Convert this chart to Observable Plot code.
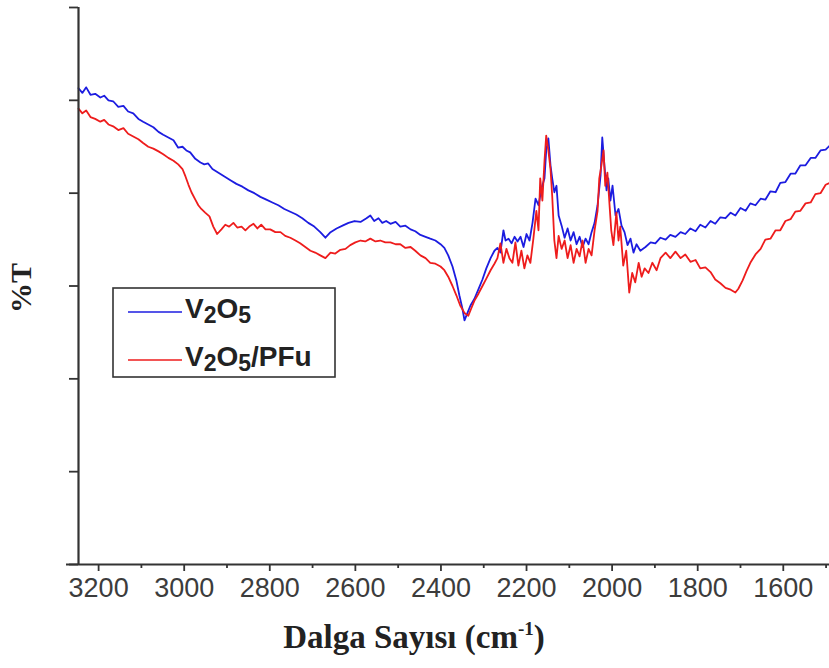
<!DOCTYPE html>
<html>
<head>
<meta charset="utf-8">
<script src="https://cdn.jsdelivr.net/npm/d3@7"></script>
<script src="https://cdn.jsdelivr.net/npm/@observablehq/plot@0.6"></script>
<style>
  html, body { margin: 0; padding: 0; background: #fff; }
  #chart { width: 829px; height: 668px; }
</style>
</head>
<body>
<div id="chart"></div>
<script>
// FTIR transmittance spectra, wavenumber axis in cm-1 (high to low)
const wnBlue = [3247,3238,3229,3219,3208,3196,3187,3177,3166,3154,3142,3131,3119,3107,3096,3084,3072,3060,3049,3037,
  3025,3014,3004,2995,2986,2974,2962,2953,2944,2934,2920,2906,2892,2878,2864,2850,2836,2822,2808,2794,
  2780,2766,2752,2738,2724,2710,2696,2682,2670,2658,2644,2630,2616,2602,2588,2574,2565,2556,2546,2537,
  2528,2518,2506,2495,2483,2471,2460,2448,2436,2425,2413,2401,2392,2383,2373,2364,2357,2350,2345,2338,
  2331,2322,2312,2303,2294,2284,2275,2268,2261,2254,2249,2242,2235,2228,2221,2214,2207,2200,2193,2186,
  2179,2172,2165,2158,2154,2149,2144,2140,2135,2130,2125,2118,2111,2104,2097,2090,2083,2076,2069,2062,
  2055,2048,2041,2034,2027,2023,2018,2013,2009,2004,1999,1992,1985,1978,1971,1964,1957,1950,1943,1934,
  1922,1910,1899,1887,1875,1864,1852,1840,1829,1817,1805,1794,1782,1770,1759,1747,1735,1723,1712,1700,
  1688,1677,1665,1653,1642,1630,1618,1607,1595,1583,1572,1560,1548,1536,1525,1513,1501,1492];
const tBlue = [51.3,50.8,51.4,50.6,50.7,50.3,50.5,50.0,49.9,49.3,49.4,48.8,48.6,48.0,47.7,47.4,47.1,46.6,46.3,46.0,
  45.7,44.9,45.0,44.6,44.4,43.7,43.3,43.1,43.2,42.6,42.2,41.8,41.4,41.0,40.7,40.3,40.0,39.6,39.3,39.0,
  38.7,38.3,38.0,37.7,37.3,36.8,36.4,35.8,35.2,35.8,36.2,36.5,36.8,37.0,36.9,37.3,37.6,37.0,37.3,36.8,
  37.0,36.7,36.9,36.4,36.5,36.1,35.9,35.5,35.3,35.1,34.9,34.5,34.1,33.3,32.1,30.6,29.0,27.6,26.3,27.1,
  27.9,28.6,29.7,30.7,31.9,33.0,33.8,34.1,33.6,36.0,34.9,35.1,34.6,35.3,34.8,35.3,34.2,35.6,34.9,36.8,
  39.4,38.7,40.5,41.6,44.6,45.9,43.0,41.6,40.1,40.8,37.6,36.5,35.2,36.2,34.9,35.8,34.5,35.3,34.2,35.1,
  34.5,35.8,36.8,38.7,41.9,46.0,43.0,40.3,41.6,39.2,40.8,37.6,38.3,36.5,35.8,34.4,35.1,33.6,34.5,33.8,
  34.2,34.7,34.6,35.2,35.0,35.5,35.3,35.8,35.6,36.2,35.9,36.6,36.3,37.0,36.7,37.4,37.3,37.9,37.6,38.4,
  38.1,38.9,38.7,39.4,39.3,40.2,40.1,41.1,41.2,42.1,42.1,43.0,43.0,43.8,43.8,44.6,44.7,45.1];

const wnRed = [3247,3238,3229,3219,3208,3196,3187,3177,3166,3154,3142,3131,3119,3107,3096,3084,3072,3060,3049,3037,
  3025,3014,3004,2997,2990,2983,2974,2967,2960,2951,2941,2932,2923,2913,2904,2895,2885,2876,2866,2857,
  2848,2838,2829,2820,2810,2799,2787,2775,2764,2752,2740,2729,2717,2705,2694,2682,2670,2658,2647,2635,
  2623,2612,2600,2588,2577,2565,2553,2542,2530,2518,2506,2495,2483,2471,2460,2448,2436,2425,2413,2401,
  2392,2383,2373,2364,2355,2345,2336,2329,2322,2312,2303,2294,2284,2275,2268,2261,2254,2247,2240,2233,
  2226,2219,2212,2205,2198,2191,2184,2177,2172,2168,2163,2158,2154,2149,2144,2140,2135,2130,2125,2118,
  2111,2104,2097,2090,2083,2076,2069,2062,2055,2048,2041,2034,2030,2025,2020,2016,2011,2006,2002,1997,
  1990,1985,1981,1974,1967,1960,1953,1946,1938,1931,1924,1915,1906,1896,1887,1875,1864,1852,1840,1829,
  1817,1805,1794,1782,1770,1759,1747,1735,1723,1712,1705,1695,1686,1677,1665,1653,1642,1630,1618,1607,
  1595,1583,1572,1560,1548,1536,1525,1513,1501,1492];
const tRed = [49.1,48.6,48.9,48.2,48.0,47.7,47.9,47.4,47.2,46.8,47.0,46.4,46.1,45.8,45.4,45.0,44.8,44.5,44.2,43.8,
  43.5,43.1,42.6,41.8,40.9,40.1,39.3,38.7,38.3,37.9,37.5,36.4,35.6,36.1,36.6,36.4,36.8,36.3,36.4,36.0,
  36.4,36.7,36.2,36.6,36.1,36.1,35.8,35.8,35.4,35.2,34.9,34.6,34.2,33.8,33.6,33.3,33.0,33.6,33.5,33.9,
  34.0,34.4,34.7,34.9,34.8,35.1,34.8,34.9,34.7,34.7,34.5,34.5,34.1,34.2,33.8,33.3,33.0,32.5,32.4,32.1,
  31.7,31.0,30.0,29.0,27.9,27.1,26.8,27.6,28.4,29.2,30.0,30.8,31.7,32.4,33.0,34.6,32.5,34.0,33.0,32.5,
  34.7,32.2,33.8,31.9,33.3,32.5,35.1,38.1,36.0,41.6,39.2,43.5,46.2,44.6,42.6,39.7,34.9,33.0,35.4,34.0,
  34.9,33.0,34.4,32.5,34.0,33.2,34.9,32.5,34.0,33.3,36.0,38.1,41.6,43.0,44.6,40.8,42.2,38.7,36.0,34.4,
  37.9,34.9,36.4,32.2,33.8,29.3,31.4,30.4,32.5,31.0,31.9,31.4,32.5,31.7,33.0,33.6,33.0,33.7,33.0,33.4,
  32.6,32.8,31.9,32.0,31.5,30.7,30.3,29.8,29.6,29.3,29.7,30.6,31.6,32.5,33.4,34.0,35.0,35.1,36.0,36.0,
  37.0,37.2,38.0,38.1,38.9,39.0,39.9,40.0,40.9,41.1];

const seriesNames = ["V2O5", "V2O5/PFu"];
const seriesColors = ["#1c1ce0", "#ee1c1c"];
const xMajorTicks = [3200, 3000, 2800, 2600, 2400, 2200, 2000, 1800, 1600];
const xMinorTicks = [3100, 2900, 2700, 2500, 2300, 2100, 1900, 1700, 1500];
const yTicks = [0, 10, 20, 30, 40, 50, 60];
const xTitle = "Dalga Sayısı (cm";
const xTitleSup = "-1";
const yTitle = "%T";

const xDomain = [3247, 1492];
const yDomain = [0, 60];

const blue = wnBlue.map((w, i) => ({wn: w, t: tBlue[i]}));
const red = wnRed.map((w, i) => ({wn: w, t: tRed[i]}));

const axisColor = "#333";

const chart = Plot.plot({
  width: 829,
  height: 668,
  marginLeft: 78,
  marginRight: 0,
  marginTop: 7,
  marginBottom: 104,
  style: {background: "#fff", fontFamily: "'Liberation Sans', Arial, sans-serif", color: "#3c3c3c"},
  x: {domain: xDomain},
  y: {domain: yDomain},
  marks: [
    Plot.lineY(blue, {x: "wn", y: "t", stroke: seriesColors[0], strokeWidth: 1.8}),
    Plot.lineY(red, {x: "wn", y: "t", stroke: seriesColors[1], strokeWidth: 1.8}),
    Plot.axisX({ticks: xMajorTicks, tickSize: 7, tickPadding: 6, tickFormat: d => String(d),
      fontSize: 27, label: null, stroke: axisColor, strokeWidth: 1.8}),
    Plot.axisX({ticks: xMinorTicks, tickSize: 4, tickFormat: () => "", label: null,
      stroke: axisColor, strokeWidth: 1.8}),
    Plot.axisY({ticks: yTicks, tickSize: 9, tickFormat: () => "", label: null,
      stroke: axisColor, strokeWidth: 1.8}),
    Plot.ruleX([xDomain[0]], {stroke: axisColor, strokeWidth: 2.2}),
    Plot.ruleY([yDomain[0]], {x1: xDomain[0] + 28, x2: xDomain[1], stroke: axisColor, strokeWidth: 2.2})
  ]
});

document.getElementById("chart").appendChild(chart);

const svg = d3.select(chart);

// axis titles
const xt = svg.append("text")
  .attr("x", 414).attr("y", 648)
  .attr("text-anchor", "middle")
  .attr("font-family", "'Liberation Serif', 'Times New Roman', serif")
  .attr("font-weight", "bold")
  .attr("font-size", 33)
  .attr("fill", "#222");
xt.append("tspan").text(xTitle);
xt.append("tspan").attr("font-size", 19).attr("dy", -13).text(xTitleSup);
xt.append("tspan").attr("dy", 13).text(")");

svg.append("text")
  .attr("transform", "translate(31,288) rotate(-90)")
  .attr("text-anchor", "middle")
  .attr("font-family", "'Liberation Serif', 'Times New Roman', serif")
  .attr("font-weight", "bold")
  .attr("font-size", 30)
  .attr("fill", "#222")
  .text(yTitle);

// legend box
const lg = svg.append("g");
lg.append("rect")
  .attr("x", 113).attr("y", 288).attr("width", 222).attr("height", 89)
  .attr("fill", "#fff").attr("stroke", axisColor).attr("stroke-width", 1.6);

seriesNames.forEach((name, i) => {
  const base = 318 + i * 48;
  lg.append("line")
    .attr("x1", 128).attr("x2", 182)
    .attr("y1", base - 6).attr("y2", base - 6)
    .attr("stroke", seriesColors[i]).attr("stroke-width", 1.6);
  const t = lg.append("text")
    .attr("x", 185).attr("y", base)
    .attr("text-anchor", "start")
    .attr("font-family", "'Liberation Sans', Arial, sans-serif")
    .attr("font-weight", "bold")
    .attr("font-size", 28)
    .attr("fill", "#222");
  // chemical formula: digits drawn as subscripts
  const parts = name.match(/\d+|\D+/g);
  let shifted = false;
  parts.forEach(p => {
    const isDigit = /^\d+$/.test(p);
    const sp = t.append("tspan").text(p);
    if (isDigit) {
      sp.attr("font-size", 23).attr("dy", shifted ? 0 : 5);
      shifted = true;
    } else if (shifted) {
      sp.attr("dy", -5);
      shifted = false;
    }
  });
});
</script>
</body>
</html>
